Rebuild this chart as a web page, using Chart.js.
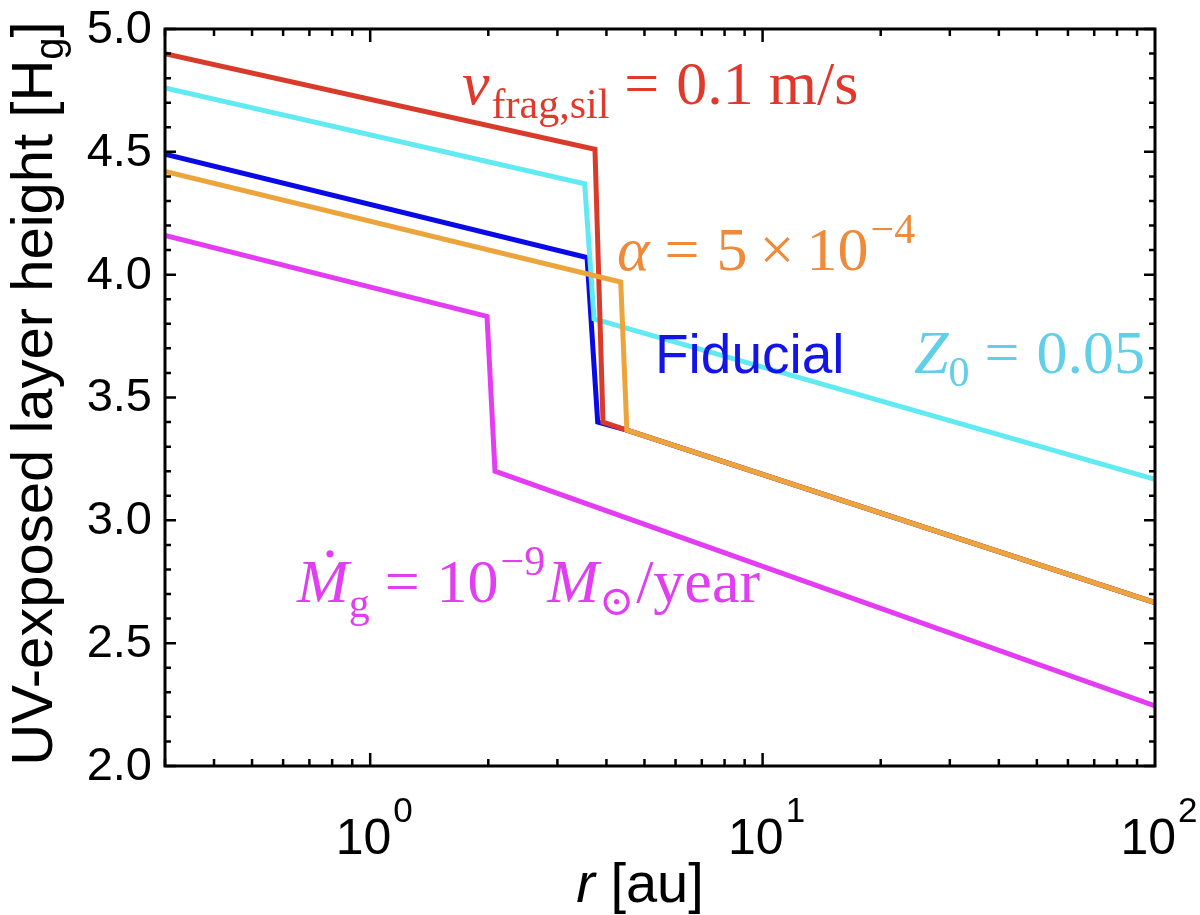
<!DOCTYPE html>
<html>
<head>
<meta charset="utf-8">
<script src="https://cdn.jsdelivr.net/npm/chart.js@4.4.1/dist/chart.umd.min.js"></script>
<style>
  html, body { margin: 0; padding: 0; background: #fff; }
  #wrap { width: 1200px; height: 915px; }
</style>
</head>
<body>
<div id="wrap"><canvas id="uv-chart" width="1200" height="915"></canvas></div>
<script>
// radius [au] and UV-exposed layer height [H_g]
const fiducialR = [0.3, 3.57, 3.80, 4.51, 100];
const fiducialH = [4.49, 4.07, 3.40, 3.367, 2.665];
const vfragR = [0.3, 3.74, 3.92, 4.51, 100];
const vfragH = [4.90, 4.51, 3.40, 3.367, 2.665];
const z0R = [0.3, 3.52, 3.72, 100];
const z0H = [4.76, 4.37, 3.82, 3.167];
const alphaR = [0.3, 4.35, 4.51, 100];
const alphaH = [4.42, 3.97, 3.367, 2.665];
const mdotR = [0.3, 1.985, 2.08, 100];
const mdotH = [4.16, 3.83, 3.20, 2.245];

const xMajor = [1, 10, 100];
const xMajorExp = ["0", "1", "2"];
const yMajor = [2.0, 2.5, 3.0, 3.5, 4.0, 4.5, 5.0];
const yTickLabels = ["2.0", "2.5", "3.0", "3.5", "4.0", "4.5", "5.0"];

const SERIF = '"Liberation Serif", "DejaVu Serif", serif';
const SANS = '"Liberation Sans", Arial, sans-serif';

function pts(rs, hs) {
  return rs.map((r, i) => ({ x: r, y: hs[i] }));
}

function line(data, color) {
  return {
    data: data,
    borderColor: color,
    borderWidth: 5,
    pointRadius: 0,
    showLine: true,
    tension: 0,
    fill: false,
  };
}

// draws a run of text pieces one after another (sub/superscripts via dy)
function rich(ctx, x, y, parts, color) {
  ctx.fillStyle = color;
  ctx.textAlign = "left";
  ctx.textBaseline = "alphabetic";
  let cx = x;
  for (const p of parts) {
    ctx.font = p.f;
    cx += p.dx || 0;
    ctx.fillText(p.t, cx, y + (p.dy || 0));
    cx += ctx.measureText(p.t).width;
  }
  return cx;
}

function richWidth(ctx, parts) {
  let w = 0;
  for (const p of parts) {
    ctx.font = p.f;
    w += (p.dx || 0) + ctx.measureText(p.t).width;
  }
  return w;
}

const big = `62px ${SERIF}`;
const bigIt = `italic 62px ${SERIF}`;
const small = `42px ${SERIF}`;

const frame = {
  id: "frame",
  beforeDraw(chart) {
    const ctx = chart.ctx;
    ctx.save();
    ctx.fillStyle = "#fff";
    ctx.fillRect(0, 0, chart.width, chart.height);
    ctx.restore();
  },
  afterDatasetsDraw(chart) {
    const { ctx, chartArea: a, scales } = chart;
    const x = scales.x, y = scales.y;
    ctx.save();

    // axes box with inward ticks on all four sides
    ctx.strokeStyle = "#000";
    ctx.lineWidth = 3;
    ctx.strokeRect(a.left, a.top, a.right - a.left, a.bottom - a.top);

    ctx.lineWidth = 2.5;
    ctx.beginPath();
    for (let d = 0.1; d <= 10; d *= 10) {
      for (let k = 1; k <= 9; k++) {
        const v = k * d;
        if (v < 0.3 || v > 100) continue;
        const px = x.getPixelForValue(v);
        const len = k === 1 ? 13 : 7;
        ctx.moveTo(px, a.bottom); ctx.lineTo(px, a.bottom - len);
        ctx.moveTo(px, a.top); ctx.lineTo(px, a.top + len);
      }
    }
    for (let i = 0; i <= 30; i++) {
      const v = 2 + i * 0.1;
      const py = y.getPixelForValue(v);
      const len = i % 5 === 0 ? 11 : 6;
      ctx.moveTo(a.left, py); ctx.lineTo(a.left + len, py);
      ctx.moveTo(a.right, py); ctx.lineTo(a.right - len, py);
    }
    ctx.stroke();

    // y tick labels
    ctx.fillStyle = "#000";
    ctx.font = `47px ${SANS}`;
    ctx.textAlign = "right";
    ctx.textBaseline = "middle";
    yMajor.forEach((v, i) => {
      ctx.fillText(yTickLabels[i], a.left - 13, y.getPixelForValue(v) + 1);
    });

    // x tick labels 10^n
    xMajor.forEach((v, i) => {
      const parts = [
        { t: "10", f: `50px ${SANS}` },
        { t: xMajorExp[i], f: `35px ${SANS}`, dy: -32, dx: 2 },
      ];
      const w = richWidth(ctx, parts);
      rich(ctx, x.getPixelForValue(v) - w / 2 + 4, a.bottom + 88, parts, "#000");
    });

    // x title
    const xt = [
      { t: "r", f: `italic 56px ${SANS}` },
      { t: " [au]", f: `56px ${SANS}` },
    ];
    rich(ctx, 640 - richWidth(ctx, xt) / 2, 902, xt, "#000");

    // y title
    ctx.save();
    ctx.translate(52, (a.top + a.bottom) / 2 - 4);
    ctx.rotate(-Math.PI / 2);
    const yt = [
      { t: "UV-exposed layer height [H", f: `58px ${SANS}` },
      { t: "g", f: `40px ${SANS}`, dy: 11 },
      { t: "]", f: `58px ${SANS}` },
    ];
    rich(ctx, -richWidth(ctx, yt) / 2, 0, yt, "#000");
    ctx.restore();

    // curve labels
    rich(ctx, 462, 104, [
      { t: "v", f: bigIt },
      { t: "frag,sil", f: small, dy: 14, dx: 2 },
      { t: "=", f: big, dx: 15 },
      { t: "0.1", f: big, dx: 17 },
      { t: "m/s", f: big, dx: 15 },
    ], "#e0392b");

    rich(ctx, 617, 270, [
      { t: "\u03b1", f: bigIt },
      { t: "=", f: big, dx: 15 },
      { t: "5", f: big, dx: 17 },
      { t: "\u00d7", f: big, dx: 12 },
      { t: "10", f: big, dx: 12 },
      { t: "\u22124", f: small, dy: -27, dx: 2 },
    ], "#ee8a3a");

    rich(ctx, 914, 373, [
      { t: "Z", f: bigIt },
      { t: "0", f: small, dy: 13, dx: 0 },
      { t: "=", f: big, dx: 15 },
      { t: "0.05", f: big, dx: 17 },
    ], "#62cfe9");

    ctx.font = `55px ${SANS}`;
    ctx.fillStyle = "#1414e6";
    ctx.textAlign = "left";
    ctx.fillText("Fiducial", 655, 373);

    const mx = 297, my = 602;
    rich(ctx, mx, my, [
      { t: "M", f: bigIt },
      { t: "g", f: small, dy: 15, dx: 0 },
      { t: "=", f: big, dx: 15 },
      { t: "10", f: big, dx: 17 },
      { t: "\u22129", f: small, dy: -27, dx: 2 },
      { t: "M", f: bigIt, dx: 2 },
      { t: "\u2299", f: small, dy: 13, dx: 0 },
      { t: "/year", f: big, dx: 2 },
    ], "#e03ef0");
    ctx.font = big;
    ctx.textAlign = "center";
    ctx.fillText(".", 330, 557);

    ctx.restore();
  },
};

const canvas = document.getElementById("uv-chart");

new Chart(canvas, {
  type: "scatter",
  data: {
    datasets: [
      line(pts(alphaR, alphaH), "#eca53c"),
      line(pts(vfragR, vfragH), "#d93b2b"),
      line(pts(z0R, z0H), "#62eaf2"),
      line(pts(fiducialR, fiducialH), "#0a0ae6"),
      line(pts(mdotR, mdotH), "#e43cf2"),
    ],
  },
  options: {
    responsive: false,
    animation: false,
    devicePixelRatio: 1,
    layout: {
      padding: { left: 165, right: 45, top: 29, bottom: 149 },
    },
    plugins: {
      legend: { display: false },
      tooltip: { enabled: false },
    },
    scales: {
      x: {
        type: "logarithmic",
        min: 0.3,
        max: 100,
        display: false,
      },
      y: {
        type: "linear",
        min: 2,
        max: 5,
        display: false,
      },
    },
  },
  plugins: [frame],
});
</script>
</body>
</html>
